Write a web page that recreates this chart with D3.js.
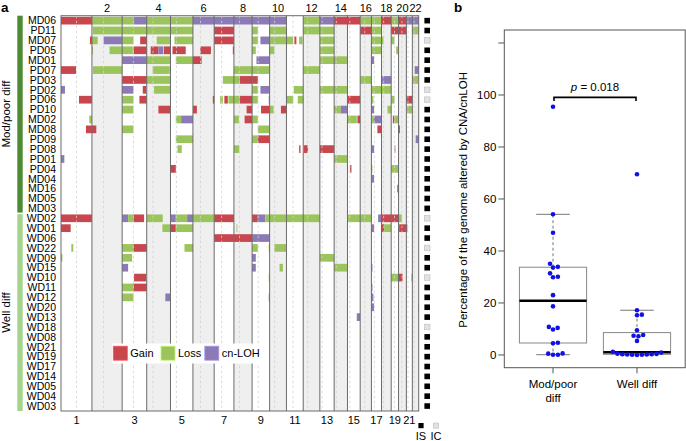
<!DOCTYPE html>
<html><head><meta charset="utf-8">
<script src="https://cdn.jsdelivr.net/npm/d3@7"></script>
<style>body{margin:0;background:#fff} text{font-family:"Liberation Sans",Arial,Helvetica,sans-serif;fill:#000}</style>
</head><body><svg id="c" width="686" height="441"></svg>
<script>
// ---------------- DATA ----------------
const chromNames = ["1","2","3","4","5","6","7","8","9","10","11","12","13","14","15","16","17","18","19","20","21","22"];
const chromLengths = [249.3,243.2,198.0,191.2,180.9,171.1,159.1,146.4,141.2,135.5,135.0,133.9,115.2,107.3,102.5,90.4,81.2,78.1,59.1,63.0,48.1,51.3];
const centromeres = [125.0,93.3,91.0,50.4,48.4,61.0,59.9,45.6,49.0,40.2,53.7,35.8,17.9,17.6,19.0,36.6,24.0,17.2,26.5,27.5,13.2,14.7];
const modSamples = ["MD06","PD11","MD07","PD05","MD01","PD07","PD03","PD02","PD06","PD10","MD02","MD08","PD09","PD08","PD01","PD04","MD04","MD16","MD05","MD03"];
const wellSamples = ["WD02","WD01","WD06","WD22","WD09","WD15","WD10","WD11","WD12","WD20","WD13","WD18","WD08","WD21","WD19","WD17","WD14","WD05","WD04","WD03"];
const icSamples = ["MD07","PD02","PD06","WD02","WD22","WD10","WD18"];
const alterationTypes = ["Gain","Loss","cn-LOH"];
// [sample, chromosome, start Mb, end Mb, type]
const segments = [
["MD06",1,0,249,"Gain"],["MD06",2,0,243,"Loss"],["MD06",3,0,96,"Loss"],["MD06",3,96,198,"cn-LOH"],["MD06",4,0,191,"Loss"],["MD06",5,0,181,"Loss"],["MD06",6,0,171,"cn-LOH"],["MD06",7,0,159,"cn-LOH"],["MD06",8,0,146,"cn-LOH"],["MD06",9,0,141,"cn-LOH"],["MD06",10,0,135,"cn-LOH"],["MD06",12,0,134,"Loss"],["MD06",13,0,115,"cn-LOH"],["MD06",14,0,107,"Gain"],["MD06",15,0,102,"Gain"],["MD06",16,0,90,"Loss"],["MD06",17,0,81,"Loss"],["MD06",18,0,78,"Gain"],["MD06",19,0,59,"Loss"],["MD06",20,0,63,"Gain"],["MD06",21,0,48,"cn-LOH"],["MD06",22,0,51,"cn-LOH"],
["PD11",2,8,243,"Loss"],["PD11",3,0,198,"Loss"],["PD11",4,0,191,"Loss"],["PD11",5,0,181,"Loss"],["PD11",7,0,159,"Gain"],["PD11",9,0,46,"Loss"],["PD11",10,0,135,"Loss"],["PD11",12,0,134,"Loss"],["PD11",13,0,115,"Loss"],["PD11",16,0,90,"Gain"],["PD11",17,0,81,"Loss"],["PD11",19,0,59,"Gain"],["PD11",20,0,63,"Gain"],["PD11",22,0,51,"Loss"],
["MD07",1,233,249,"Gain"],["MD07",2,0,46,"Loss"],["MD07",2,94,243,"cn-LOH"],["MD07",3,0,91,"Loss"],["MD07",3,145,198,"Gain"],["MD07",4,80,191,"Loss"],["MD07",5,32,181,"Loss"],["MD07",7,0,159,"Gain"],["MD07",9,0,46,"Loss"],["MD07",9,67,141,"cn-LOH"],["MD07",10,0,135,"Loss"],["MD07",11,0,54,"Loss"],["MD07",11,64,80,"Gain"],["MD07",11,102,129,"Loss"],["MD07",13,0,115,"Loss"],["MD07",17,0,81,"Loss"],["MD07",18,0,16,"Loss"],["MD07",19,0,27,"Loss"],
["PD05",2,0,8,"Loss"],["PD05",2,142,243,"Loss"],["PD05",3,0,86,"Loss"],["PD05",3,91,198,"Gain"],["PD05",4,32,94,"Gain"],["PD05",4,94,134,"cn-LOH"],["PD05",4,139,191,"Gain"],["PD05",5,16,123,"Gain"],["PD05",6,59,145,"Gain"],["PD05",7,150,159,"Gain"],["PD05",9,0,30,"Loss"],["PD05",10,0,38,"Loss"],["PD05",13,0,115,"Loss"],["PD05",17,0,81,"Loss"],["PD05",19,40,59,"Loss"],
["MD01",3,0,198,"cn-LOH"],["MD01",4,0,191,"Loss"],["MD01",5,43,181,"Loss"],["MD01",6,0,70,"Gain"],["MD01",9,35,141,"cn-LOH"],["MD01",13,0,115,"Loss"],["MD01",14,0,107,"Loss"],["MD01",17,0,21,"cn-LOH"],
["PD07",1,0,121,"Gain"],["PD07",2,8,243,"Loss"],["PD07",4,48,186,"Loss"],["PD07",8,0,146,"Loss"],["PD07",9,0,141,"Loss"],["PD07",12,0,134,"Loss"],["PD07",22,19,51,"cn-LOH"],
["PD03",3,0,198,"Gain"],["PD03",4,0,191,"Loss"],["PD03",7,70,159,"Loss"],["PD03",8,0,48,"Loss"],["PD03",8,48,146,"Gain"],["PD03",9,0,46,"Gain"],["PD03",16,0,90,"Loss"],["PD03",18,0,78,"cn-LOH"],["PD03",22,0,46,"Loss"],
["PD02",1,0,32,"cn-LOH"],["PD02",3,0,91,"cn-LOH"],["PD02",3,166,193,"Gain"],["PD02",4,59,191,"Loss"],["PD02",9,0,46,"Loss"],["PD02",9,67,141,"cn-LOH"],["PD02",11,59,135,"Loss"],["PD02",13,0,115,"Loss"],["PD02",14,0,107,"Loss"],["PD02",17,0,81,"Loss"],["PD02",18,0,78,"Loss"],
["PD06",1,145,249,"Gain"],["PD06",3,0,91,"Loss"],["PD06",3,139,198,"Gain"],["PD06",6,160,171,"Gain"],["PD06",7,48,70,"Loss"],["PD06",7,82,110,"Gain"],["PD06",7,115,159,"Loss"],["PD06",8,0,48,"Loss"],["PD06",8,48,146,"Gain"],["PD06",9,0,46,"Loss"],["PD06",9,134,141,"cn-LOH"],["PD06",11,0,54,"Loss"],["PD06",11,91,135,"Loss"],["PD06",15,0,102,"Gain"],["PD06",17,0,16,"Loss"],["PD06",19,0,27,"Loss"],["PD06",21,0,48,"Gain"],
["PD10",3,0,91,"Loss"],["PD10",4,94,188,"Gain"],["PD10",6,0,32,"Gain"],["PD10",8,102,146,"Gain"],["PD10",9,72,141,"Gain"],["PD10",10,0,32,"Loss"],["PD10",10,91,135,"Gain"],["PD10",14,0,54,"Loss"],["PD10",14,54,107,"cn-LOH"],["PD10",17,0,21,"cn-LOH"],["PD10",18,48,78,"Loss"],["PD10",21,5,48,"Loss"],
["MD02",1,228,249,"Loss"],["MD02",5,43,86,"Loss"],["MD02",5,86,181,"cn-LOH"],["MD02",8,0,40,"Loss"],["MD02",8,86,146,"Gain"],["MD02",9,0,46,"Loss"],["MD02",15,0,75,"Loss"],["MD02",15,80,102,"Gain"],["MD02",17,0,21,"Loss"],["MD02",17,21,81,"cn-LOH"],["MD02",19,13,27,"Gain"],["MD02",19,27,59,"Loss"],
["MD08",1,201,249,"Gain"],["MD08",2,0,35,"Gain"],["MD08",3,0,91,"Loss"],["MD08",9,46,141,"Loss"],["MD08",17,48,81,"Gain"],["MD08",20,0,11,"Gain"],
["PD09",5,43,181,"Loss"],["PD09",9,0,46,"Loss"],["PD09",9,46,141,"Gain"],["PD09",22,27,51,"cn-LOH"],
["PD08",5,56,91,"Loss"],["PD08",8,0,43,"Loss"],["PD08",11,102,113,"Gain"],["PD08",12,5,38,"Gain"],["PD08",13,0,115,"Gain"],["PD08",17,0,21,"cn-LOH"],["PD08",19,27,30,"Gain"],
["PD01",1,0,27,"cn-LOH"],["PD01",14,0,107,"Loss"],
["PD04",5,0,43,"Gain"],["PD04",15,21,32,"Gain"],["PD04",17,0,8,"Loss"],["PD04",19,0,59,"Loss"],
["MD04",17,0,21,"cn-LOH"],
["MD16",19,48,59,"cn-LOH"],
["WD02",1,0,249,"Gain"],["WD02",3,0,48,"cn-LOH"],["WD02",3,48,91,"Loss"],["WD02",3,91,177,"Gain"],["WD02",4,0,129,"Loss"],["WD02",5,0,43,"cn-LOH"],["WD02",5,43,134,"Loss"],["WD02",5,134,181,"cn-LOH"],["WD02",6,0,171,"Loss"],["WD02",7,0,159,"Gain"],["WD02",9,0,46,"Gain"],["WD02",9,46,107,"cn-LOH"],["WD02",9,107,141,"Loss"],["WD02",10,0,135,"Loss"],["WD02",11,0,135,"Loss"],["WD02",12,0,134,"Loss"],["WD02",15,5,102,"Loss"],["WD02",16,0,90,"Loss"],["WD02",17,54,81,"cn-LOH"],["WD02",18,0,78,"Gain"],["WD02",19,0,59,"Gain"],["WD02",20,0,27,"Loss"],
["WD01",1,0,78,"Gain"],["WD01",4,126,191,"Loss"],["WD01",5,0,43,"Gain"],["WD01",5,43,181,"Loss"],["WD01",8,21,27,"Loss"],["WD01",17,0,21,"cn-LOH"],["WD01",18,0,21,"Gain"],["WD01",18,21,78,"Loss"],["WD01",20,5,63,"Gain"],["WD01",21,0,8,"Gain"],
["WD06",7,0,159,"Gain"],["WD06",8,0,146,"Gain"],["WD06",9,0,141,"cn-LOH"],
["WD22",1,83,99,"Loss"],["WD22",3,0,91,"Loss"],["WD22",3,91,198,"Gain"],["WD22",5,113,181,"Loss"],["WD22",9,0,46,"Loss"],["WD22",9,134,141,"Loss"],["WD22",10,38,135,"Loss"],
["WD09",1,0,11,"Loss"],["WD09",3,0,80,"Loss"],["WD09",9,0,30,"cn-LOH"],["WD09",13,0,115,"Loss"],
["WD15",3,0,48,"cn-LOH"],["WD15",9,0,30,"cn-LOH"],["WD15",10,80,107,"Loss"],["WD15",14,0,107,"Loss"],["WD15",17,0,8,"cn-LOH"],
["WD10",3,96,193,"Gain"],["WD10",9,134,141,"Loss"],["WD10",19,0,59,"Loss"],["WD10",20,0,32,"Gain"],["WD10",21,40,48,"Loss"],
["WD11",3,0,91,"Loss"],["WD11",3,91,198,"Gain"],["WD11",17,0,8,"cn-LOH"],
["WD12",3,0,91,"Loss"],["WD12",4,150,188,"cn-LOH"],["WD12",9,134,141,"cn-LOH"],["WD12",17,0,16,"cn-LOH"],
["WD20",17,0,21,"cn-LOH"],["WD20",22,46,51,"Loss"],
["WD13",15,75,102,"cn-LOH"]
];
// panel b: percentage of genome altered
const boxGroups = ["Mod/poor diff","Well diff"];
const modValues = [95.5,54.1,47.0,35.1,33.9,33.6,31.4,30.1,29.9,23.0,18.7,10.8,10.4,9.8,4.7,4.5,0.6,0.5,0.1,0.1];
const wellValues = [69.5,17.2,15.5,15.3,9.5,7.7,7.4,7.2,5.4,1.2,0.9,0.5,0.4,0.3,0.3,0.2,0.2,0.1,0.1,0.0];
const yTicks = [0,20,40,60,80,100,120];
const yTickLabels = ["0","20","40","60","80","100",""];
const pText = "0.018";

// ---------------- PANEL A ----------------
const svg = d3.select("#c");
const colors = {"Gain":"#c8464d","Loss":"#9cc45c","cn-LOH":"#8b7ab6"};
const samples = modSamples.concat(wellSamples);
const cumStart = []; let acc = 0;
chromLengths.forEach(l => { cumStart.push(acc); acc += l; });
const total = acc;
const X0 = 61, X1 = 418.7, Y0 = 15.7, Y1 = 411;
const x = d3.scaleLinear().domain([0,total]).range([X0,X1]);
const y = d3.scaleBand().domain(samples).range([Y0,Y1]);
const bw = y.bandwidth();
const chroms = chromNames.map((n,i) => ({name:n, i, start:cumStart[i], len:chromLengths[i], cen:cumStart[i]+centromeres[i]}));

const gA = svg.append("g");
gA.selectAll("rect.stripe").data(chroms.filter(c => c.i % 2 === 1)).join("rect")
  .attr("x", c => x(c.start)).attr("width", c => x(c.start+c.len)-x(c.start))
  .attr("y", Y0).attr("height", Y1-Y0).attr("fill","#efefef");

gA.selectAll("rect.seg").data(segments).join("rect")
  .attr("x", d => x(cumStart[d[1]-1]+d[2]))
  .attr("width", d => Math.max(0.8, x(cumStart[d[1]-1]+d[3]) - x(cumStart[d[1]-1]+d[2])))
  .attr("y", d => y(d[0]) + bw*0.11).attr("height", bw*0.78)
  .attr("fill", d => colors[d[4]]);

gA.selectAll("line.cen").data(chroms).join("line")
  .attr("x1", c => x(c.cen)).attr("x2", c => x(c.cen)).attr("y1", Y0).attr("y2", Y1)
  .attr("stroke","#d2d2d2").attr("stroke-width",0.8).attr("stroke-dasharray","2.5,2.5");

gA.selectAll("line.bd").data(chroms.slice(1)).join("line")
  .attr("x1", c => x(c.start)).attr("x2", c => x(c.start)).attr("y1", Y0).attr("y2", Y1)
  .attr("stroke","#6a6a6a").attr("stroke-width",1);
gA.append("rect").attr("x",X0).attr("y",Y0).attr("width",X1-X0).attr("height",Y1-Y0)
  .attr("fill","none").attr("stroke","#6a6a6a").attr("stroke-width",1);

// chromosome labels
gA.selectAll("text.ct").data(chroms.filter(c => c.i%2===1)).join("text")
  .attr("x", c => x(c.start+c.len/2)).attr("y", 11.5).attr("text-anchor","middle")
  .attr("font-size", 11).text(c => c.name);
gA.selectAll("text.cb").data(chroms.filter(c => c.i%2===0)).join("text")
  .attr("x", c => x(c.start+c.len/2)).attr("y", 423.5).attr("text-anchor","middle")
  .attr("font-size", 11).text(c => c.name);

// sample labels
gA.selectAll("text.sl").data(samples).join("text")
  .attr("x", 56).attr("y", s => y(s)+bw/2).attr("dy","0.36em").attr("text-anchor","end")
  .attr("font-size", 10.5).text(s => s);

// group bars
const grp = [
  {name:"Mod/poor diff", list:modSamples, color:"#4d8a33"},
  {name:"Well diff", list:wellSamples, color:"#a4d48b"}
];
grp.forEach((g,gi) => {
  const top = y(g.list[0]) + (gi===0 ? 0 : 0.8);
  const bot = y(g.list[g.list.length-1]) + bw - (gi===0 ? 0.8 : 0);
  gA.append("rect").attr("x",17.3).attr("width",5.4).attr("y",top).attr("height",bot-top).attr("fill",g.color);
  gA.append("text").attr("transform",`translate(6,${(top+bot)/2}) rotate(-90)`)
    .attr("text-anchor","middle").attr("dy","0.36em").attr("font-size",11.5).text(g.name);
});

// IS / IC squares
const sq = 5.6;
gA.selectAll("rect.isic").data(samples).join("rect")
  .attr("x", 427.2 - sq/2).attr("y", s => y(s)+bw/2-sq/2).attr("width",sq).attr("height",sq)
  .attr("fill", s => icSamples.includes(s) ? "#e2e2e2" : "#000")
  .attr("stroke", s => icSamples.includes(s) ? "#bdbdbd" : "none").attr("stroke-width",0.6);
[{t:"IS",c:"#000",cx:421},{t:"IC",c:"#e2e2e2",cx:436}].forEach(d => {
  gA.append("rect").attr("x",d.cx-2.6).attr("y",423).attr("width",5.2).attr("height",5.2)
    .attr("fill",d.c).attr("stroke", d.t==="IC" ? "#bdbdbd":"none").attr("stroke-width",0.6);
  gA.append("text").attr("x",d.cx).attr("y",439.5).attr("text-anchor","middle").attr("font-size",11).text(d.t);
});

// legend
const lg = gA.append("g");
lg.append("rect").attr("x",112).attr("y",343.5).attr("width",147).attr("height",20).attr("fill","#fff");
const legX = [113.3,161,204.8];
alterationTypes.forEach((t,i) => {
  lg.append("rect").attr("x",legX[i]).attr("y",346.2).attr("width",14).attr("height",14)
    .attr("fill",colors[t]).attr("stroke",d3.color(colors[t]).brighter(0.6)).attr("stroke-width",0.8);
  lg.append("text").attr("x",legX[i]+17).attr("y",357.2).attr("font-size",11).text(t);
});

svg.append("text").attr("x",1).attr("y",11.5).attr("font-size",13.5).attr("font-weight","bold").text("a");

// ---------------- PANEL B ----------------
const BX0 = 504.3, BX1 = 685.7, BY0 = 30, BY1 = 367.7;
const gB = svg.append("g");
const yb = d3.scaleLinear().domain([-4.9,125]).range([BY1,BY0]);
const xb = d3.scaleLinear().domain([0.42,2.58]).range([BX0,BX1]);
gB.append("rect").attr("x",BX0).attr("y",BY0).attr("width",BX1-BX0-0.5).attr("height",BY1-BY0)
  .attr("fill","none").attr("stroke","#555").attr("stroke-width",1);
gB.selectAll("line.yt").data(yTicks).join("line")
  .attr("x1",BX0-6).attr("x2",BX0).attr("y1",v=>yb(v)).attr("y2",v=>yb(v)).attr("stroke","#555");
gB.selectAll("text.yl").data(yTicks).join("text")
  .attr("x",BX0-8).attr("y",v=>yb(v)).attr("dy","0.36em").attr("text-anchor","end")
  .attr("font-size",11.5).text((v,i)=>yTickLabels[i]);
gB.append("text").attr("transform",`translate(462.5,${(BY0+BY1)/2+1}) rotate(-90)`)
  .attr("text-anchor","middle").attr("dy","0.36em").attr("font-size",11.5)
  .text("Percentage of the genome altered by CNA/cnLOH");

function fivenum(arr){
  const s = arr.slice().sort((a,b)=>a-b), n = s.length;
  const n4 = Math.floor((n+3)/2)/2;
  const d = [1, n4, (n+1)/2, n+1-n4, n];
  return d.map(k => 0.5*(s[Math.floor(k)-1]+s[Math.ceil(k)-1]));
}
function swarm(vals, dia){
  const pts = vals.map(v => ({v, y: yb(v)})).sort((a,b)=>a.v-b.v);
  const placed = [];
  pts.forEach(p => {
    const cand = [0];
    placed.forEach(q => { const dy = Math.abs(q.y-p.y); if (dy < dia){ const dx = Math.sqrt(dia*dia-dy*dy); cand.push(q.dx+dx, q.dx-dx);} });
    cand.sort((a,b)=>Math.abs(a)-Math.abs(b));
    for (const c of cand){
      if (placed.every(q => Math.hypot(q.dx-c, q.y-p.y) >= dia-1e-6)){ p.dx = c; break; }
    }
    placed.push(p);
  });
  return placed;
}
const boxW = 0.8;
[modValues, wellValues].forEach((vals,gi) => {
  const c = gi+1, cx = xb(c);
  const [mn,q1,med,q3,mx] = fivenum(vals);
  const iqr = q3-q1;
  const hiW = d3.max(vals.filter(v => v <= q3+1.5*iqr));
  const loW = d3.min(vals.filter(v => v >= q1-1.5*iqr));
  const half = (xb(c+boxW/2)-xb(c-boxW/2))/2;
  const bg = gB.append("g");
  bg.append("line").attr("x1",cx).attr("x2",cx).attr("y1",yb(q3)).attr("y2",yb(hiW)).attr("stroke","#777").attr("stroke-dasharray","3,2.5");
  bg.append("line").attr("x1",cx).attr("x2",cx).attr("y1",yb(q1)).attr("y2",yb(loW)).attr("stroke","#777").attr("stroke-dasharray","3,2.5");
  bg.append("line").attr("x1",cx-half/2).attr("x2",cx+half/2).attr("y1",yb(hiW)).attr("y2",yb(hiW)).attr("stroke","#777");
  bg.append("line").attr("x1",cx-half/2).attr("x2",cx+half/2).attr("y1",yb(loW)).attr("y2",yb(loW)).attr("stroke","#777");
  bg.append("rect").attr("x",cx-half).attr("width",2*half).attr("y",yb(q3)).attr("height",yb(q1)-yb(q3))
    .attr("fill","none").attr("stroke","#888").attr("stroke-width",1);
  bg.append("line").attr("x1",cx-half).attr("x2",cx+half).attr("y1",yb(med)).attr("y2",yb(med)).attr("stroke","#000").attr("stroke-width",2.4);
  const pts = swarm(vals, 4.9);
  bg.selectAll("circle").data(pts).join("circle")
    .attr("cx", p => cx+p.dx).attr("cy", p => p.y).attr("r",2.3).attr("fill","#1010e8");
  gB.append("line").attr("x1",cx).attr("x2",cx).attr("y1",BY1).attr("y2",BY1+5.6).attr("stroke","#555");
});
// x labels
gB.append("text").attr("x",xb(1)).attr("y",388).attr("text-anchor","middle").attr("font-size",11.5).text("Mod/poor");
gB.append("text").attr("x",xb(1)).attr("y",401.5).attr("text-anchor","middle").attr("font-size",11.5).text("diff");
gB.append("text").attr("x",xb(2)).attr("y",388).attr("text-anchor","middle").attr("font-size",11.5).text("Well diff");
// p bracket
const by = yb(99.1);
gB.append("path").attr("d",`M${xb(1)+1},${by+3.6}V${by}H${xb(2)-1}V${by+3.6}`)
  .attr("fill","none").attr("stroke","#000").attr("stroke-width",1.6);
const pt = gB.append("text").attr("x",(xb(1)+xb(2))/2).attr("y",by-6.5).attr("text-anchor","middle").attr("font-size",11.5);
pt.append("tspan").attr("font-style","italic").text("p");
pt.append("tspan").text(" = " + pText);
svg.append("text").attr("x",454).attr("y",12).attr("font-size",13.5).attr("font-weight","bold").text("b");
</script></body></html>
